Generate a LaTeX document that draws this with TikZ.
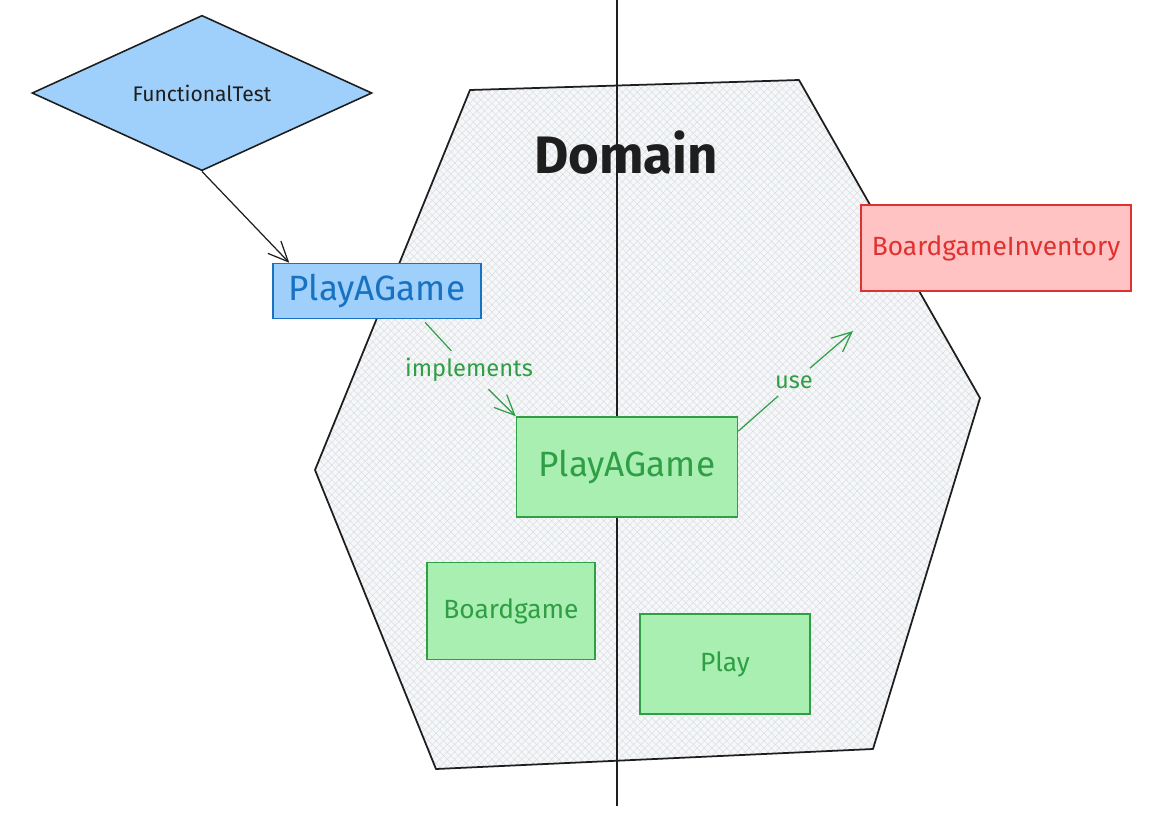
\documentclass[tikz,border=0pt]{standalone}
\usepackage{fontspec}
\setmainfont{Fira Sans}
\usetikzlibrary{shapes.geometric,arrows.meta,patterns.meta}
\definecolor{bluefill}{HTML}{9FD0FB}
\definecolor{bluestroke}{HTML}{1971C2}
\definecolor{greenfill}{HTML}{A9EFB2}
\definecolor{greenstroke}{HTML}{2F9E44}
\definecolor{redfill}{HTML}{FFC3C3}
\definecolor{redstroke}{HTML}{E03131}
\definecolor{ink}{HTML}{1E1E1E}
\definecolor{hexfill}{HTML}{F6F7F8}
\definecolor{hatch}{HTML}{DADEE3}
\begin{document}
\begin{tikzpicture}[x=0.02cm,y=-0.02cm,
  box/.style={draw,rectangle,line width=0.9pt,inner sep=0pt},
  bluebox/.style={box,draw=bluestroke,fill=bluefill,text=bluestroke},
  greenbox/.style={box,draw=greenstroke,fill=greenfill,text=greenstroke},
  redbox/.style={box,draw=redstroke,fill=redfill,text=redstroke},
  lbl/.style={text=greenstroke,inner sep=4pt,font=\fontsize{13.5}{16}\selectfont},
  link/.style={line width=0.7pt,-{Straight Barb[length=0.4cm,width=0.36cm]}}]
  \useasboundingbox (0,0) rectangle (1164,819);

  % the domain hexagon
  \draw[ink,line width=1pt,line join=round,
    preaction={fill=hexfill},
    preaction={pattern={Lines[angle=45,distance=3pt,line width=0.3pt]},pattern color=hatch},
    preaction={pattern={Lines[angle=-45,distance=3pt,line width=0.3pt]},pattern color=hatch}]
    (470,90) -- (799,80) -- (980,398) -- (873,749) -- (436,769) -- (315,470) -- cycle;
  \draw[ink,line width=1.1pt] (617,0) -- (617,806);
  \node[text=ink,font=\fontsize{30}{36}\selectfont\bfseries] (domain) at (626,153) {Domain};

  \node[diamond,draw=ink,fill=bluefill,line width=0.9pt,inner sep=0pt,
    minimum width=6.8cm,minimum height=2.9cm,text=ink,
    font=\fontsize{12}{14}\selectfont] (ft) at (202,93) {FunctionalTest};
  \node[bluebox,minimum width=4.16cm,minimum height=1.1cm,
    font=\fontsize{20}{24}\selectfont] (api) at (377,291) {PlayAGame};
  \node[greenbox,minimum width=4.42cm,minimum height=2cm,
    font=\fontsize{20}{24}\selectfont] (main) at (627,467) {PlayAGame};
  \node[redbox,minimum width=5.4cm,minimum height=1.72cm,
    font=\fontsize{15}{18}\selectfont] (inv) at (996,248) {BoardgameInventory};
  \node[greenbox,minimum width=3.36cm,minimum height=1.94cm,
    font=\fontsize{15}{18}\selectfont] (bg) at (511,611) {Boardgame};
  \node[greenbox,minimum width=3.4cm,minimum height=2cm,
    font=\fontsize{15}{18}\selectfont] (play) at (725,664) {Play};

  % connectors
  \node[lbl] (impl) at (469,370) {implements};
  \node[lbl] (uselbl) at (794,382) {use};
  \coordinate (usetip) at (853,331);
  \draw[link,ink] (ft.south) -- ([xshift=0.34cm]api.north west);
  \draw[greenstroke,line width=0.7pt] ([xshift=0.96cm,yshift=-0.06cm]api.south) -- (impl);
  \draw[link,greenstroke] (impl) -- (main.north west);
  \draw[greenstroke,line width=0.7pt] ([yshift=-0.3cm]main.north east) -- (uselbl);
  \draw[link,greenstroke] (uselbl) -- (usetip);
\end{tikzpicture}
\end{document}
